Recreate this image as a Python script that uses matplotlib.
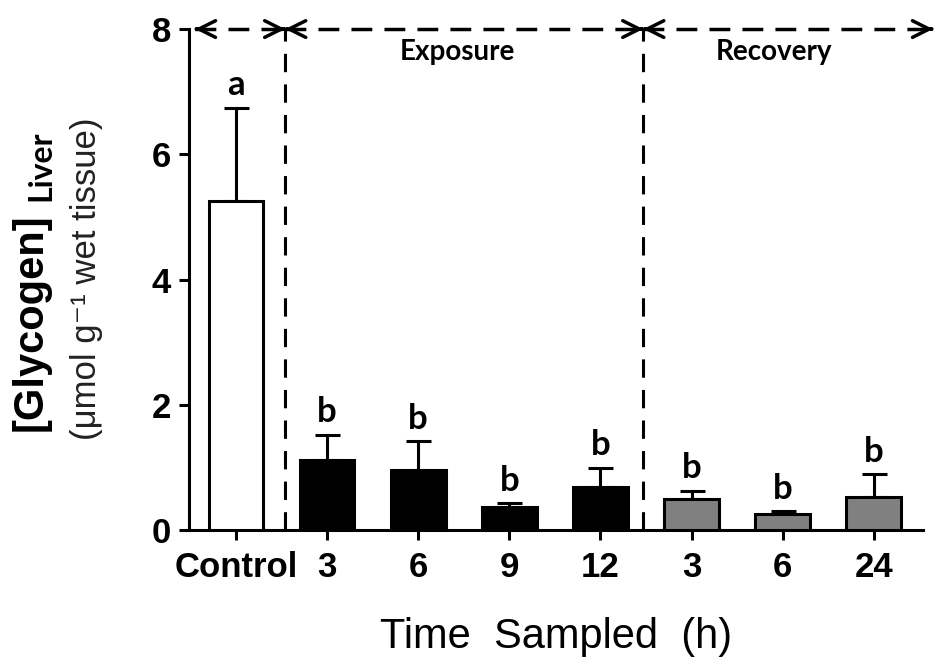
import numpy as np
import matplotlib
matplotlib.use("Agg")
import matplotlib.pyplot as plt
from matplotlib.patches import ArrowStyle

# values
groups = ['Control', '3', '6', '9', '12', '3', '6', '24']
phase = ['control', 'exposure', 'exposure', 'exposure', 'exposure',
         'recovery', 'recovery', 'recovery']
glycogen = [5.25, 1.12, 0.96, 0.36, 0.68, 0.50, 0.26, 0.53]
sem = [1.49, 0.40, 0.46, 0.07, 0.31, 0.13, 0.04, 0.36]
letters = ['a', 'b', 'b', 'b', 'b', 'b', 'b', 'b']
phase_labels = ['Exposure', 'Recovery']

colors = {'control': 'white', 'exposure': 'black', 'recovery': '#808080'}

fig = plt.figure(figsize=(9.45, 6.6), dpi=100)
ax = fig.add_axes([0.2, 0.197, 0.7767, 0.759])

x = np.arange(len(groups))
lw = 2.2
ax.bar(x, glycogen, width=0.6, color=[colors[p] for p in phase],
       edgecolor='black', linewidth=lw, zorder=3)
ax.errorbar(x, glycogen, yerr=[np.zeros(len(sem)), sem], fmt='none',
            ecolor='black', elinewidth=lw, capsize=9, capthick=lw, zorder=2)

for xi, m, s, lab in zip(x, glycogen, sem, letters):
    ax.annotate(lab, xy=(xi, m + s), xytext=(0, 9), textcoords='offset points',
                ha='center', va='baseline', fontsize=25, fontweight='bold',
                family=['Lato', 'DejaVu Sans'])

# phase separators
sep = [0.54, 4.47]
for s in sep:
    ax.plot([s, s], [0, 8], color='black', lw=lw, ls=(0, (6, 4)), zorder=1)

# top double arrows
y_top = 8
spans = [(-0.45, sep[0]), (sep[0], sep[1]), (sep[1], 7.65)]
head = ArrowStyle('->', head_length=12, head_width=6)
for a, b in spans:
    ax.plot([a, b], [y_top, y_top], color='black', lw=2.5, ls=(0, (6, 3.5)),
            clip_on=False, solid_capstyle='butt')
    for tip, d in [(a, 0.02), (b, -0.02)]:
        ax.annotate('', xy=(tip, y_top), xytext=(tip + d, y_top),
                    arrowprops=dict(arrowstyle=head, color='black', lw=2.5,
                                    shrinkA=0, shrinkB=0, mutation_scale=1),
                    annotation_clip=False)

ax.text(2.43, 7.63, phase_labels[0], ha='center', va='center',
        fontsize=20, fontweight='bold', family=['Lato', 'DejaVu Sans'])
ax.text(5.91, 7.63, phase_labels[1], ha='center', va='center',
        fontsize=20, fontweight='bold', family=['Lato', 'DejaVu Sans'])

ax.set_xlim(-0.516, 7.54)
ax.set_ylim(0, 8)
ax.set_yticks([0, 2, 4, 6, 8])
ax.set_xticks(x)
ax.set_xticklabels(groups)
for sp in ['top', 'right']:
    ax.spines[sp].set_visible(False)
for sp in ['left', 'bottom']:
    ax.spines[sp].set_linewidth(lw)
ax.tick_params(axis='both', width=lw, length=7, labelsize=25)
ax.tick_params(axis='y', pad=6)
ax.tick_params(axis='x', pad=8)
for t in ax.get_xticklabels() + ax.get_yticklabels():
    t.set_fontweight('bold')
    t.set_family('Liberation Sans')

ax.set_xlabel('Time  Sampled  (h)', fontsize=30, family='Liberation Sans',
              labelpad=24)

# y label, built from pieces
fig.text(31 / 945, 1 - 322 / 660, '[Glycogen]', rotation=90, ha='center',
         va='center', fontsize=30, fontweight='bold', family='Liberation Sans')
fig.text(41 / 945, 1 - 166 / 660, 'Liver', rotation=90, ha='center',
         va='center', fontsize=23, fontweight='bold', family=['Lato', 'DejaVu Sans'])
fig.text(87 / 945, 1 - 279 / 660, '(\u03bcmol g\u207b\u00b9 wet tissue)',
         rotation=90, ha='center', va='center', fontsize=25, color='#222222',
         family=['Liberation Sans', 'DejaVu Sans'])

fig.savefig('out.png', dpi=100)
